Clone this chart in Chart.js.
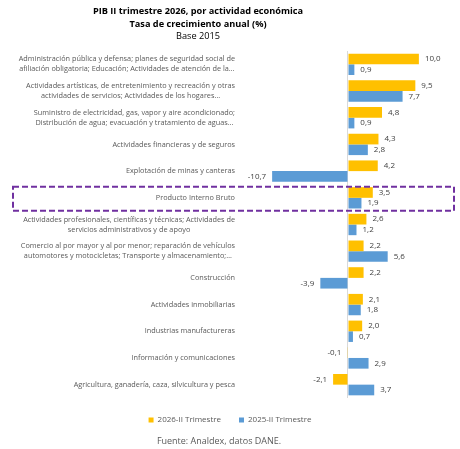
<!DOCTYPE html>
<html lang="es">
<head>
<meta charset="UTF-8">
<title>PIB II trimestre 2026</title>
<script src="https://cdn.jsdelivr.net/npm/chart.js@4.4.1/dist/chart.umd.min.js"></script>
<style>
    body { margin: 0; background: #fff; }
    .caja { position: relative; width: 460px; height: 449px; font-family: 'Open Sans', sans-serif; }
    canvas { position: absolute; left: 0; top: 0; }
    .titulo { position: absolute; left: 0; width: 396px; text-align: center; color: #000; font-size: 9.2px; line-height: 12px; }
    .fuente { position: absolute; left: 0; width: 438px; top: 434px; text-align: center; color: #595959; font-size: 9px; }
</style>
</head>
<body>
<div class="caja">
    <canvas id="grafico" width="460" height="449"></canvas>
    <div class="titulo" style="top:5px; font-weight:bold;">PIB II trimestre 2026, por actividad económica</div>
    <div class="titulo" style="top:18px; font-weight:bold;">Tasa de crecimiento anual (%)</div>
    <div class="titulo" style="top:30px;">Base 2015</div>
    <div class="fuente">Fuente: Analdex, datos DANE.</div>
</div>

<script>
    // categorias (etiquetas de varias lineas como en el original)
    const categorias = [
        ['Administración pública y defensa; planes de seguridad social de', 'afiliación obligatoria; Educación; Actividades de atención de la…'],
        ['Actividades artísticas, de entretenimiento y recreación y otras', 'actividades de servicios; Actividades de los hogares…'],
        ['Suministro de electricidad, gas, vapor y aire acondicionado;', 'Distribución de agua; evacuación y tratamiento de aguas…'],
        ['Actividades financieras y de seguros'],
        ['Explotación de minas y canteras'],
        ['Producto Interno Bruto'],
        ['Actividades profesionales, científicas y técnicas; Actividades de', 'servicios administrativos y de apoyo'],
        ['Comercio al por mayor y al por menor; reparación de vehículos', 'automotores y motocicletas; Transporte y almacenamiento;…'],
        ['Construcción'],
        ['Actividades inmobiliarias'],
        ['Industrias manufactureras'],
        ['Información y comunicaciones'],
        ['Agricultura, ganadería, caza, silvicultura y pesca']
    ];
    const trimestre2026 = [10.0, 9.5, 4.8, 4.3, 4.2, 3.5, 2.6, 2.2, 2.2, 2.1, 2.0, -0.1, -2.1];
    const trimestre2025 = [0.9, 7.7, 0.9, 2.8, -10.7, 1.9, 1.2, 5.6, -3.9, 1.8, 0.7, 2.9, 3.7];
    const nomesSeries = ['2026-II Trimestre', '2025-II Trimestre'];

    const fonte = "'Open Sans', sans-serif";

    // desenha as etiquetas das categorias (linhas centradas, bloco alinhado a direita)
    const pluginCategorias = {
        id: 'categorias',
        afterDraw(chart) {
            const ctx = chart.ctx;
            const y = chart.scales.y;
            const dir = chart.chartArea.left - 35;
            ctx.save();
            ctx.font = '7.3px ' + fonte;
            ctx.fillStyle = '#595959';
            ctx.textBaseline = 'middle';
            ctx.textAlign = 'center';
            const alt = 10;
            chart.data.labels.forEach(function (linhas, i) {
                const cy = y.getPixelForValue(i);
                let larg = 0;
                linhas.forEach(function (l) { larg = Math.max(larg, ctx.measureText(l).width); });
                const cx = dir - larg / 2;
                linhas.forEach(function (l, k) {
                    ctx.fillText(l, cx, cy + (k - (linhas.length - 1) / 2) * alt);
                });
            });
            ctx.restore();
        }
    };

    // valores ao lado das barras
    const pluginValores = {
        id: 'valores',
        afterDatasetsDraw(chart) {
            const ctx = chart.ctx;
            ctx.save();
            ctx.font = '8px ' + fonte;
            ctx.fillStyle = '#404040';
            ctx.textBaseline = 'middle';
            chart.data.datasets.forEach(function (ds, d) {
                chart.getDatasetMeta(d).data.forEach(function (barra, i) {
                    const v = ds.data[i];
                    const txt = v.toFixed(1).replace('.', ',');
                    if (v >= 0) {
                        ctx.textAlign = 'left';
                        ctx.fillText(txt, barra.x + 6, barra.y);
                    } else {
                        ctx.textAlign = 'right';
                        ctx.fillText(txt, barra.x - 6, barra.y);
                    }
                });
            });
            ctx.restore();
        }
    };

    // retangulo tracejado no PIB
    const pluginDestaque = {
        id: 'destaque',
        afterDraw(chart) {
            const ctx = chart.ctx;
            const idx = chart.data.labels.findIndex(function (l) { return l[0] === 'Producto Interno Bruto'; });
            const cy = chart.scales.y.getPixelForValue(idx);
            ctx.save();
            ctx.strokeStyle = '#7030A0';
            ctx.lineWidth = 2;
            ctx.setLineDash([6, 3]);
            ctx.strokeRect(13, cy - 11, 441, 24);
            ctx.restore();
        }
    };

    new Chart(document.getElementById('grafico'), {
        type: 'bar',
        data: {
            labels: categorias,
            datasets: [
                { label: nomesSeries[0], data: trimestre2026, backgroundColor: '#FFC000' },
                { label: nomesSeries[1], data: trimestre2025, backgroundColor: '#5B9BD5' }
            ]
        },
        options: {
            indexAxis: 'y',
            responsive: false,
            animation: false,
            devicePixelRatio: 1,
            categoryPercentage: 0.8,
            barPercentage: 1.0,
            layout: { padding: { left: 0, right: 0, top: 51, bottom: 15 } },
            scales: {
                x: {
                    min: -11,
                    max: 15.8,
                    ticks: { display: false, stepSize: 1 },
                    border: { display: false },
                    grid: {
                        drawTicks: false,
                        lineWidth: 1,
                        color: function (c) { return c.tick && c.tick.value === 0 ? '#d9d9d9' : 'rgba(0,0,0,0)'; }
                    }
                },
                y: {
                    ticks: { display: false },
                    grid: { display: false },
                    border: { display: false },
                    afterFit: function (s) { s.width = 270; }
                }
            },
            plugins: {
                legend: {
                    position: 'bottom',
                    labels: {
                        boxWidth: 5,
                        boxHeight: 5,
                        padding: 18,
                        color: '#595959',
                        font: { family: fonte, size: 8 }
                    }
                },
                tooltip: { enabled: false }
            }
        },
        plugins: [pluginCategorias, pluginValores, pluginDestaque]
    });
</script>
</body>
</html>
